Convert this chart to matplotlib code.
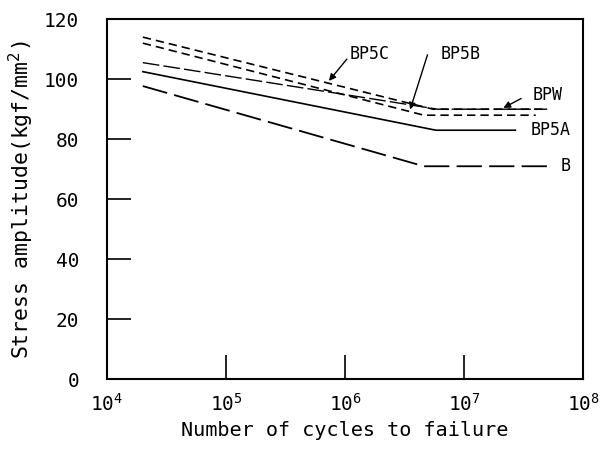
import matplotlib
matplotlib.use("Agg")
import matplotlib.pyplot as plt

# S-N curves: (cycles, stress) at start, knee, end
bp5c_n = [2e4, 5.5e6, 5e7]
bp5c_s = [114, 90, 90]
bp5b_n = [2e4, 4.6e6, 4e7]
bp5b_s = [112, 88, 88]
bpw_n = [2e4, 6e6, 5e7]
bpw_s = [105.5, 90, 90]
bp5a_n = [2e4, 5.8e6, 2.7e7]
bp5a_s = [102.5, 83, 83]
b_n = [2e4, 4.6e6, 5.6e7]
b_s = [97.7, 71, 71]

y_ticks = [0, 20, 40, 60, 80, 100, 120]
x_ticks = [1e4, 1e5, 1e6, 1e7, 1e8]

plt.rcParams['font.family'] = ['DejaVu Sans Mono', 'DejaVu Sans']

fig = plt.figure(figsize=(6.08, 4.55), dpi=100)
ax = fig.add_axes([0.176, 0.166, 0.783, 0.792])

ax.plot(bp5c_n, bp5c_s, color='black', lw=1.2, ls=(0, (5, 3)))
ax.plot(bp5b_n, bp5b_s, color='black', lw=1.2, ls=(0, (5, 3)))
ax.plot(bpw_n, bpw_s, color='black', lw=1.0, ls=(0, (12, 3)))
ax.plot(bp5a_n, bp5a_s, color='black', lw=1.2)
ax.plot(b_n, b_s, color='black', lw=1.3, ls=(0, (14, 4)))

# labels and pointer arrows
txt = dict(fontsize=12, color='black', ha='center', va='center')
ax.text(1.6e6, 108.4, 'BP5C', **txt)
ax.text(9.3e6, 108.4, 'BP5B', **txt)
ax.text(5e7, 94.7, 'BPW', **txt)
ax.text(5.3e7, 83, 'BP5A', **txt)
ax.text(7.1e7, 71, 'B', **txt)

arw = dict(arrowstyle='-|>', color='black', lw=1.0, mutation_scale=10)
ax.annotate('', xy=(10**5.85, 98.7), xytext=(10**6.03, 107.4), arrowprops=arw)
ax.annotate('', xy=(10**6.54, 89), xytext=(10**6.70, 109), arrowprops=arw)
ax.annotate('', xy=(10**7.31, 90), xytext=(10**7.50, 94), arrowprops=arw)

ax.set_xscale('log')
ax.set_xlim(1e4, 1e8)
ax.set_ylim(0, 120)
ax.set_xticks(x_ticks)
ax.set_yticks(y_ticks)
ax.minorticks_off()
ax.tick_params(direction='in', length=17, width=1.2, labelsize=14)
ax.tick_params(axis='y', pad=20)
ax.tick_params(axis='x', pad=10)

for sp in ax.spines.values():
    sp.set_linewidth(1.5)

ax.set_xlabel('Number of cycles to failure', fontsize=14.5, labelpad=4)
ax.set_ylabel('Stress amplitude(kgf/mm$^2$)', fontsize=15.5, labelpad=6)

fig.savefig('out.png', dpi=100)
